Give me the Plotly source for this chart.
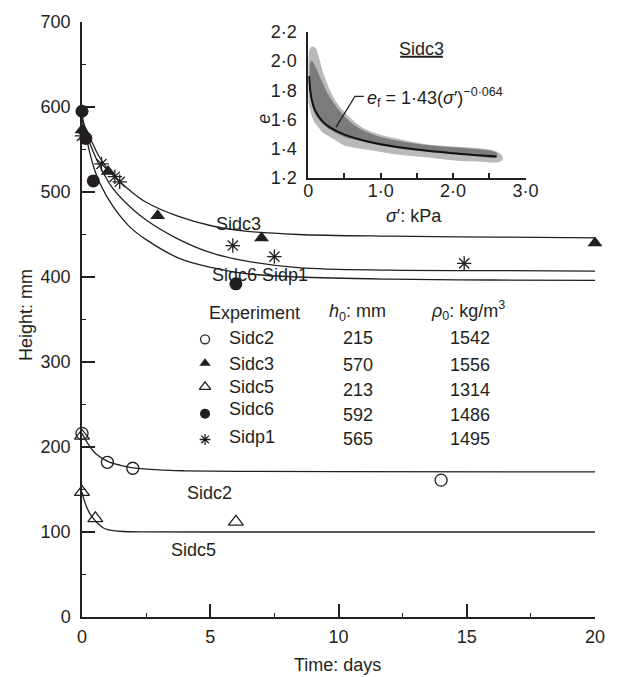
import plotly.graph_objects as go

# ---- measured sample heights (mm) against time (days) ----
sidc2_t = [0, 0.99, 1.98, 14.0]
sidc2_h = [216, 182, 175, 161]
sidc3_t = [0, 1.02, 2.95, 7.0, 20.0]
sidc3_h = [573, 524, 472, 446, 440]
sidc5_t = [0, 0, 0.52, 6.0]
sidc5_h = [213, 147, 116, 112]
sidc6_t = [0, 0.15, 0.44, 6.0]
sidc6_h = [595, 563, 513, 392]
sidp1_t = [0, 0.76, 1.28, 1.47, 5.88, 7.5, 14.9]
sidp1_h = [566, 533, 518, 512, 437, 424, 416]

# ---- model settlement curves ----
fit_sidc3_t = [0, 0.31, 0.7, 1.21, 1.86, 2.5, 3.79, 5.08, 6.37, 8.43, 12, 16, 20]
fit_sidc3_h = [585, 564, 540, 520, 502, 488, 471, 460, 454, 450, 448, 447, 446]
fit_sidp1_t = [0, 0.31, 0.7, 1.21, 1.86, 2.5, 3.79, 5.08, 6.37, 8.43, 12, 16, 20]
fit_sidp1_h = [585, 557, 530, 504, 483, 467, 444, 428, 419, 411, 408, 407.5, 407]
fit_sidc6_t = [0, 0.1, 0.25, 0.45, 0.7, 1.21, 1.86, 2.5, 3.79, 5.08, 6.37, 8.43, 12, 16, 20]
fit_sidc6_h = [592, 575, 553, 530, 510, 483, 459, 444, 422, 411, 404, 400, 397.5, 396.5, 396]
fit_sidc2_t = [0, 0.25, 0.54, 1.0, 1.5, 2.0, 3.0, 4.0, 6.0, 10.0, 20.0]
fit_sidc2_h = [216, 203, 192, 183, 178.5, 175.5, 173, 172, 171.3, 171, 170.7]
fit_sidc5_t = [0, 0.1, 0.2, 0.3, 0.44, 0.6, 0.82, 1.0, 1.21, 1.6, 2.5, 5.0, 20.0]
fit_sidc5_h = [147, 136, 128, 122, 116, 110.5, 105, 102.8, 101.5, 100.6, 100.2, 100, 100]

# ---- experiment table ----
experiments = ["Sidc2", "Sidc3", "Sidc5", "Sidc6", "Sidp1"]
h0_mm = [215, 570, 213, 592, 565]
rho0_kgm3 = [1542, 1556, 1314, 1486, 1495]

# ---- inset: void ratio e against effective stress (Sidc3) ----
cloud_sigma = [0.0, 0.02, 0.05, 0.1, 0.15, 0.2, 0.3, 0.4, 0.5, 0.7, 0.9, 1.2, 1.5, 1.8, 2.1, 2.4, 2.6, 2.68]
cloud_upper = [2.0, 2.08, 2.10, 2.09, 2.02, 1.93, 1.80, 1.71, 1.65, 1.56, 1.51, 1.47, 1.44, 1.42, 1.41, 1.40, 1.38, 1.35]
cloud_lower = [1.72, 1.68, 1.62, 1.57, 1.54, 1.51, 1.48, 1.45, 1.42, 1.40, 1.385, 1.36, 1.345, 1.33, 1.315, 1.31, 1.305, 1.32]
core_sigma = [0.02, 0.05, 0.1, 0.2, 0.3, 0.5, 0.7, 1.0, 1.4, 1.8, 2.2, 2.6]
core_upper = [1.98, 2.0, 1.96, 1.85, 1.75, 1.62, 1.54, 1.48, 1.44, 1.415, 1.40, 1.37]
core_lower = [1.80, 1.70, 1.63, 1.57, 1.53, 1.48, 1.455, 1.42, 1.39, 1.37, 1.355, 1.34]
ef_sigma = [0.012, 0.02, 0.03, 0.05, 0.1, 0.2, 0.3, 0.5, 0.75, 1.0, 1.5, 2.0, 2.6]
ef_e = [1.898, 1.837, 1.790, 1.732, 1.657, 1.585, 1.545, 1.495, 1.457, 1.430, 1.393, 1.368, 1.345]

x_ticks = [0, 5, 10, 15, 20]
y_ticks = [0, 100, 200, 300, 400, 500, 600, 700]
inset_x_ticks = [0, 1.0, 2.0, 3.0]
inset_x_text = ["0", "1·0", "2·0", "3·0"]
inset_y_ticks = [1.2, 1.4, 1.6, 1.8, 2.0, 2.2]
inset_y_text = ["1·2", "1·4", "1·6", "1·8", "2·0", "2·2"]

FONT = "Liberation Sans, Arial, Helvetica, sans-serif"
INK = "#231f20"

# plot-area geometry in pixels
L, T, W, H = 82, 17, 517, 600


def px_x(x):
    return (x - L) / W


def px_y(y):
    return (T + H - y) / H


styles = {
    "Sidc2": dict(symbol="circle-open", size=12, color=INK, line=dict(width=1.3, color=INK)),
    "Sidc3": dict(symbol="triangle-up", size=13, color=INK, line=dict(width=0, color=INK)),
    "Sidc5": dict(symbol="triangle-up-open", size=13, color=INK, line=dict(width=1.3, color=INK)),
    "Sidc6": dict(symbol="circle", size=13, color=INK, line=dict(width=0, color=INK)),
    "Sidp1": dict(symbol="asterisk-open", size=12, color=INK, line=dict(width=1.3, color=INK)),
}

fig = go.Figure()

# model curves
for tt, hh in [(fit_sidc3_t, fit_sidc3_h), (fit_sidp1_t, fit_sidp1_h), (fit_sidc6_t, fit_sidc6_h),
               (fit_sidc2_t, fit_sidc2_h), (fit_sidc5_t, fit_sidc5_h)]:
    fig.add_trace(go.Scatter(x=tt, y=hh, mode="lines", line=dict(color=INK, width=1.3, shape="spline"),
                             hoverinfo="skip", showlegend=False, cliponaxis=False))

# measurements
for name, tt, hh in [("Sidc2", sidc2_t, sidc2_h), ("Sidc3", sidc3_t, sidc3_h), ("Sidc5", sidc5_t, sidc5_h),
                     ("Sidc6", sidc6_t, sidc6_h), ("Sidp1", sidp1_t, sidp1_h)]:
    fig.add_trace(go.Scatter(x=tt, y=hh, mode="markers", marker=styles[name], name=name,
                             showlegend=False, cliponaxis=False))

# inset: scatter cloud and fitted compression curve
fig.add_trace(go.Scatter(x=cloud_sigma + cloud_sigma[::-1], y=cloud_upper + cloud_lower[::-1],
                         xaxis="x2", yaxis="y2", mode="lines", fill="toself",
                         fillcolor="rgba(70,70,70,0.38)", line=dict(width=0, shape="spline"),
                         hoverinfo="skip", showlegend=False))
fig.add_trace(go.Scatter(x=core_sigma + core_sigma[::-1], y=core_upper + core_lower[::-1],
                         xaxis="x2", yaxis="y2", mode="lines", fill="toself",
                         fillcolor="rgba(30,30,30,0.40)", line=dict(width=0, shape="spline"),
                         hoverinfo="skip", showlegend=False))
fig.add_trace(go.Scatter(x=ef_sigma, y=ef_e, xaxis="x2", yaxis="y2", mode="lines",
                         line=dict(color="#111", width=2, shape="spline"),
                         hoverinfo="skip", showlegend=False))

# table symbols on a hidden overlay axis spanning the plot area
row_marker_y = [337, 361, 385, 412, 438]
for name, ry in zip(experiments, row_marker_y):
    m = dict(styles[name])
    m["size"] = m["size"] - 3
    fig.add_trace(go.Scatter(x=[px_x(206)], y=[px_y(ry)], xaxis="x3", yaxis="y3", mode="markers",
                             marker=m, hoverinfo="skip", showlegend=False, cliponaxis=False))

ann = []


def text(x, y, s, xref="paper", yref="paper", xanchor="center", yanchor="middle", angle=0, size=18):
    ann.append(dict(x=x, y=y, xref=xref, yref=yref, text=s, showarrow=False, xanchor=xanchor,
                    yanchor=yanchor, textangle=angle, font=dict(family=FONT, size=size, color=INK)))


# axis titles
text(px_x(339), px_y(665), "Time: days")
text(px_x(25), px_y(312), "Height: mm", angle=-90)

# curve labels
text(6.11, 462, "Sidc3", xref="x", yref="y")
text(6.92, 402, "Sidc6 Sidp1", xref="x", yref="y")
text(4.99, 146, "Sidc2", xref="x", yref="y")
text(4.33, 79, "Sidc5", xref="x", yref="y")

# experiment table
row_name_y = [336, 362, 385, 407, 435]
row_val_y = [336, 363, 388, 413, 438]
text(px_x(208), px_y(310), "Experiment", xanchor="left")
text(px_x(360), px_y(310), "<i>h</i><sub>0</sub>: mm")
text(px_x(471), px_y(308), "<i>ρ</i><sub>0</sub>: kg/m<sup>3</sup>")
for name, h0, rho, ny, vy in zip(experiments, h0_mm, rho0_kgm3, row_name_y, row_val_y):
    text(px_x(228), px_y(ny), name, xanchor="left")
    text(px_x(360), px_y(vy), str(h0))
    text(px_x(473), px_y(vy), str(rho))

# inset labels
text(px_x(266), px_y(115), "<i>e</i>", angle=-90)
text(px_x(417), px_y(213), "<i>σ</i>′: kPa")
text(1.56, 2.08, "Sidc3", xref="x2", yref="y2")
text(0.79, 1.75, "<i>e</i><sub>f</sub> = 1·43(<i>σ</i>′)<sup>−0·064</sup>", xref="x2", yref="y2",
     xanchor="left")

shapes = [
    # underline of the inset title
    dict(type="line", xref="x2", yref="y2", x0=1.27, x1=1.86, y0=2.03, y1=2.03,
         line=dict(color=INK, width=2)),
    # leader from equation to fitted curve
    dict(type="path", xref="x2", yref="y2", path="M 0.384 1.547 L 0.644 1.758 L 0.767 1.758",
         line=dict(color=INK, width=1.2)),
]

axis_common = dict(showline=True, linecolor=INK, linewidth=1.5, showgrid=False, zeroline=False,
                   tickfont=dict(family=FONT, size=18, color=INK), tickcolor=INK)

fig.update_layout(
    width=620, height=677,
    margin=dict(l=L, r=620 - L - W, t=T, b=677 - T - H),
    paper_bgcolor="white", plot_bgcolor="white",
    showlegend=False,
    xaxis=dict(range=[0, 20], tickvals=x_ticks, ticks="inside", ticklen=13, tickwidth=1.5,
               minor=dict(ticks="inside", ticklen=4, dtick=2.5, tickwidth=1, tickcolor=INK),
               ticklabelstandoff=3, **axis_common),
    yaxis=dict(range=[0, 700], tickvals=y_ticks, ticks="inside", ticklen=13, tickwidth=1.5,
               minor=dict(ticks="inside", ticklen=4, dtick=50, tickwidth=1, tickcolor=INK),
               ticklabelstandoff=6, **axis_common),
    xaxis2=dict(domain=[px_x(310), px_x(529)], range=[0, 3], anchor="y2", tickvals=inset_x_ticks,
                ticktext=inset_x_text, ticks="inside", ticklen=5, tickwidth=1.5,
                minor=dict(ticks="inside", ticklen=5, dtick=0.5, tickwidth=1.5, tickcolor=INK),
                ticklabelstandoff=-4, **axis_common),
    yaxis2=dict(domain=[px_y(174), px_y(27)], range=[1.2, 2.2], anchor="x2", tickvals=inset_y_ticks,
                ticktext=inset_y_text, ticks="", ticklabelstandoff=6, **axis_common),
    xaxis3=dict(domain=[0, 1], range=[0, 1], overlaying="x", visible=False, anchor="y3"),
    yaxis3=dict(domain=[0, 1], range=[0, 1], overlaying="y", visible=False, anchor="x3"),
    annotations=ann,
    shapes=shapes,
)

fig.write_html("out.html")
